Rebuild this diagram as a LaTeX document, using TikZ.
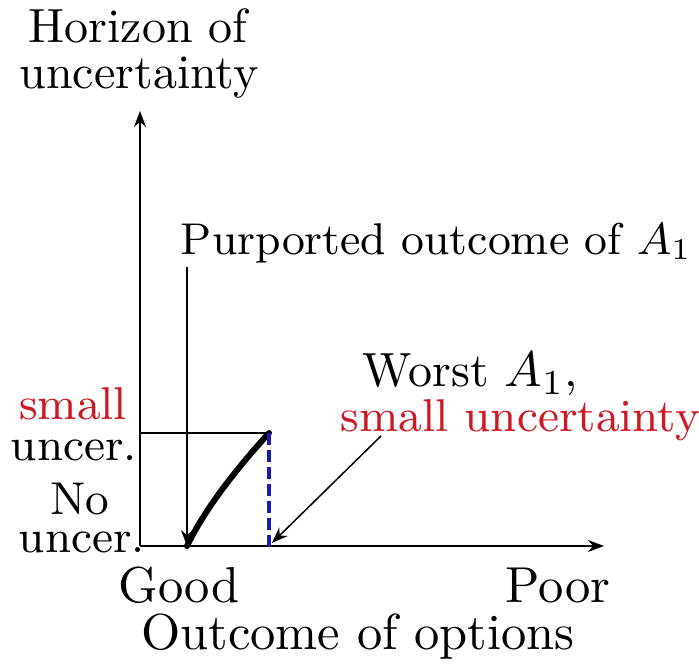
\documentclass[tikz,border=0pt]{standalone}
\usepackage{xcolor}
\usetikzlibrary{arrows.meta}
\definecolor{labelred}{RGB}{205,25,35}
\definecolor{dashblue}{RGB}{25,25,190}

\begin{document}
\begin{tikzpicture}[x=0.2pt, y=-0.2pt, >={Stealth[length=3.2pt,width=2.4pt]},
  every node/.style={font=\fontsize{9.6}{11}\selectfont, inner sep=0pt},
  narrow/.style={font=\fontsize{9.2}{11}\selectfont},
  wide/.style={font=\fontsize{10.1}{12}\selectfont},
  axis/.style={line width=0.35pt},
  pointer/.style={line width=0.3pt, ->},
  outcome/.style={line width=1.2pt, line cap=round},
  worstline/.style={dashblue, line width=0.8pt, dash pattern=on 2.4pt off 1pt}]
\useasboundingbox (0,0) rectangle (699,666);
% axes
\coordinate (O) at (140,546);
\coordinate (ytop) at (140,111);
\coordinate (xend) at (604,546);
\draw[axis, ->] (O) -- (ytop);
\draw[axis, ->] (O) -- (xend);
% horizon levels and outcome curve
\coordinate (small) at (140,433);
\coordinate (corner) at (269,433);
\coordinate (purp) at (187,546);
\coordinate (worst) at (269,546);
\draw[axis] (small) -- (corner);
\draw[outcome] (purp) .. controls (207,505) and (240,465) .. (corner);
\draw[worstline] (corner) -- (worst);
% labels
\node[anchor=base] (hor1) at (138,43) {Horizon of};
\node[anchor=base] (hor2) at (139,89) {uncertainty};
\node[anchor=base west, font=\fontsize{8.9}{11}\selectfont] (purplab) at (180,255) {Purported outcome of $A_1$};
\node[anchor=base west] (worstlab) at (362,387) {Worst $A_1$,};
\node[anchor=base west, narrow, text=labelred] (worstunc) at (340,432) {small uncertainty};
\node[anchor=base east, narrow, text=labelred] (smalllab) at (128,420) {small};
\node[anchor=base east, narrow] (uncer1) at (138,461) {uncer.};
\node[anchor=base, narrow] (nolab) at (80,515) {No};
\node[anchor=base east, narrow] (uncer2) at (146,553) {uncer.};
\node[anchor=base, wide] (good) at (179,603) {Good};
\node[anchor=base, wide] (poor) at (558,603) {Poor};
\node[anchor=base, wide] (xlab) at (358,650) {Outcome of options};
% pointers
\coordinate (purptop) at (187,267);
\coordinate (worsttail) at (381,436);
\coordinate (worsttip) at (272,543);
\draw[pointer] (purptop) -- (purp);
\draw[pointer] (worsttail) -- (worsttip);
\end{tikzpicture}
\end{document}
